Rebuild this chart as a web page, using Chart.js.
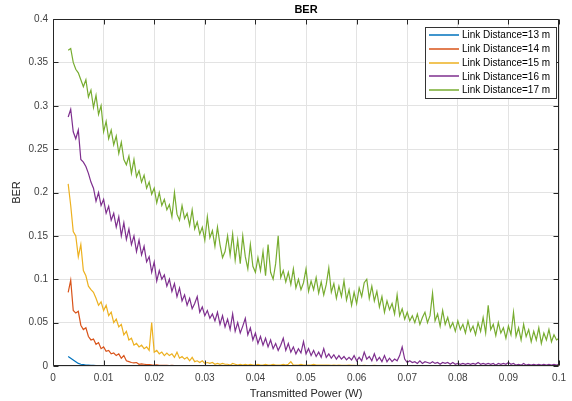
<!DOCTYPE html>
<html>
<head>
<meta charset="utf-8">
<script src="https://cdn.jsdelivr.net/npm/chart.js@4.4.0/dist/chart.umd.min.js"></script>
<style>
html,body{margin:0;padding:0;background:#fff;}
#wrap{width:572px;height:401px;}
</style>
</head>
<body>
<div id="wrap"><canvas id="c" width="572" height="401"></canvas></div>
<script>
// Sampling grid of transmitted power (W): 0.003 .. 0.1 in steps of 0.0005
const powerStart = 0.003, powerStep = 0.0005, powerCount = 195;
const power = [];
for (let i = 0; i < powerCount; i++) power.push(+(powerStart + powerStep * i).toFixed(4));

const seriesLabels = ['Link Distance=13 m','Link Distance=14 m','Link Distance=15 m','Link Distance=16 m','Link Distance=17 m'];
const seriesColors = ['#0072BD','#D95319','#EDB120','#7E2F8E','#77AC30'];

const xTickValues = [0,0.01,0.02,0.03,0.04,0.05,0.06,0.07,0.08,0.09,0.1];
const xTickLabels = ['0','0.01','0.02','0.03','0.04','0.05','0.06','0.07','0.08','0.09','0.1'];
const yTickValues = [0,0.05,0.1,0.15,0.2,0.25,0.3,0.35,0.4];
const yTickLabels = ['0','0.05','0.1','0.15','0.2','0.25','0.3','0.35','0.4'];

const ber13 = [
.011,.009,.007,.005,.003,.002,.0015,.001,.001,.0008,
.0007,.0006,.0005,.0005,.0004,.0004,.0003,.0003,.0003,.0003,
.0002,.0002,.0002,.0002,.0002,.0002,.0002,.0002,.0002,.0002,
.0002,.0002,.0001,.0002,.0001,.0001,.0001,.0001,.0001,.0001,
.0001,.0001,.0001,.0001,.0001,.0001,.0001,.0001,.0001,.0001,
.0001,.0001,.0001,.0001,.0001,.0001,.0001,.0001,.0001,.0001,
.0001,.0001,.0001,.0001,.0001,.0001,.0001,.0001,.0001,.0001,
.0001,.0001,.0001,.0001,.0001,.0001,.0001,.0001,.0001,.0001,
.0001,.0001,.0001,.0001,.0001,.0001,.0001,.0001,.0001,.0001,
.0001,.0001,.0001,.0001,.0001,.0001,.0001,.0001,.0001,.0001,
.0001,.0001,.0001,.0001,.0001,.0001,.0001,.0001,.0001,.0001,
.0001,.0001,.0001,.0001,.0001,.0001,.0001,.0001,.0001,.0001,
.0001,.0001,.0001,.0001,.0001,.0001,.0001,.0001,.0001,.0001,
.0001,.0001,.0001,.0001,.0001,.0001,.0001,.0001,.0001,.0001,
.0001,.0001,.0001,.0001,.0001,.0001,.0001,.0001,.0001,.0001,
.0001,.0001,.0001,.0001,.0001,.0001,.0001,.0001,.0001,.0001,
.0001,.0001,.0001,.0001,.0001,.0001,.0001,.0001,.0001,.0001,
.0001,.0001,.0001,.0001,.0001,.0001,.0001,.0001,.0001,.0001,
.0001,.0001,.0001,.0001,.0001,.0001,.0001,.0001,.0001,.0001,
.0001,.0001,.0001,.0001,.0001
];

const ber14 = [
.085,.099,.064,.061,.063,.047,.042,.044,.034,.030,
.031,.025,.027,.020,.022,.017,.018,.014,.015,.012,
.014,.009,.012,.006,.005,.004,.0035,.004,.002,.0025,
.002,.0015,.0015,.0012,.001,.0012,.0008,.0008,.0007,.0008,
.0006,.0007,.0006,.0006,.0005,.0006,.0005,.0005,.0005,.0004,
.0004,.0005,.0004,.0004,.0004,.0003,.0004,.0003,.0003,.0003,
.0003,.0003,.0002,.0003,.0002,.0002,.0002,.0002,.0002,.0002,
.0002,.0002,.0002,.0002,.0002,.0002,.0002,.0002,.0002,.0002,
.0002,.0002,.0002,.0002,.0002,.0002,.0002,.0002,.0002,.0002,
.0002,.0002,.0002,.0002,.0002,.0002,.0002,.0002,.0002,.0002,
.0001,.0001,.0001,.0001,.0001,.0001,.0001,.0001,.0001,.0001,
.0001,.0001,.0001,.0001,.0001,.0001,.0001,.0001,.0001,.0001,
.0001,.0001,.0001,.0001,.0001,.0001,.0001,.0001,.0001,.0001,
.0001,.0001,.0001,.0001,.0001,.0001,.0001,.0001,.0001,.0001,
.0001,.0001,.0001,.0001,.0001,.0001,.0001,.0001,.0001,.0001,
.0001,.0001,.0001,.0001,.0001,.0001,.0001,.0001,.0001,.0001,
.0001,.0001,.0001,.0001,.0001,.0001,.0001,.0001,.0001,.0001,
.0001,.0001,.0001,.0001,.0001,.0001,.0001,.0001,.0001,.0001,
.0001,.0001,.0001,.0001,.0001,.0001,.0001,.0001,.0001,.0001,
.0001,.0001,.0001,.0001,.0001
];

const ber15 = [
.210,.185,.155,.150,.126,.140,.110,.104,.092,.088,
.085,.078,.070,.074,.064,.070,.058,.062,.050,.054,
.045,.048,.036,.040,.030,.032,.024,.026,.022,.024,
.020,.022,.018,.050,.016,.018,.014,.016,.012,.015,
.012,.014,.010,.016,.009,.011,.008,.010,.006,.010,
.005,.006,.004,.006,.003,.004,.003,.004,.002,.003,
.002,.003,.002,.002,.001,.003,.002,.001,.002,.001,
.002,.001,.002,.001,.001,.002,.001,.001,.002,.001,
.001,.002,.001,.001,.001,.002,.001,.002,.005,.001,
.001,.001,.002,.001,.001,.001,.001,.002,.001,.001,
.001,.001,.001,.001,.0008,.001,.0008,.001,.0008,.0008,
.0008,.001,.0008,.0008,.0006,.0008,.0006,.0008,.0006,.0006,
.0006,.0008,.0006,.0006,.0005,.0006,.0005,.0006,.0005,.0005,
.0005,.0006,.0005,.0005,.0005,.0004,.0005,.0004,.0004,.0005,
.0004,.0004,.0004,.0005,.0004,.0004,.0003,.0004,.0004,.0003,
.0003,.0004,.0003,.0003,.0003,.0004,.0003,.0003,.0003,.0003,
.0003,.0003,.0002,.0003,.0003,.0002,.0003,.0002,.0002,.0003,
.0002,.0002,.0002,.0003,.0002,.0002,.0002,.0002,.0002,.0002,
.0002,.0002,.0002,.0002,.0002,.0002,.0002,.0002,.0002,.0002,
.0002,.0002,.0002,.0002,.0002
];

const ber16 = [
.287,.296,.270,.262,.272,.238,.235,.230,.222,.212,
.205,.190,.200,.185,.192,.176,.184,.168,.176,.160,
.172,.150,.165,.146,.158,.140,.150,.132,.145,.128,
.138,.120,.126,.108,.120,.098,.110,.100,.105,.092,
.100,.086,.095,.080,.090,.075,.082,.070,.078,.066,
.072,.080,.062,.068,.058,.064,.055,.060,.052,.062,
.048,.058,.045,.054,.042,.060,.040,.050,.038,.046,
.055,.036,.044,.030,.038,.026,.034,.024,.032,.022,
.030,.020,.026,.018,.024,.032,.018,.026,.016,.022,
.014,.020,.015,.028,.014,.020,.012,.018,.011,.016,
.010,.020,.010,.014,.009,.013,.008,.012,.008,.011,
.007,.010,.007,.012,.006,.010,.006,.016,.008,.011,
.006,.014,.006,.010,.005,.012,.005,.009,.005,.008,
.006,.012,.022,.008,.004,.006,.004,.005,.003,.006,
.003,.005,.004,.003,.005,.003,.004,.002,.004,.003,
.004,.002,.004,.002,.003,.002,.003,.002,.003,.002,
.003,.002,.004,.002,.003,.002,.003,.002,.003,.001,
.003,.002,.003,.002,.004,.002,.003,.001,.002,.001,
.003,.001,.002,.001,.002,.001,.002,.001,.002,.001,
.002,.001,.002,.001,.002
];

const ber17 = [
.364,.366,.350,.342,.338,.330,.322,.330,.310,.318,
.298,.312,.290,.300,.270,.282,.262,.272,.255,.265,
.245,.258,.238,.232,.242,.222,.238,.218,.225,.212,
.220,.205,.212,.198,.205,.188,.200,.185,.192,.180,
.186,.172,.200,.175,.168,.185,.170,.176,.162,.180,
.158,.166,.152,.160,.145,.172,.148,.156,.138,.160,
.140,.125,.132,.150,.128,.152,.122,.145,.118,.150,
.126,.112,.140,.115,.108,.125,.110,.132,.104,.140,
.108,.100,.118,.150,.102,.110,.097,.108,.094,.112,
.090,.100,.088,.096,.112,.086,.098,.088,.102,.084,
.097,.082,.094,.113,.085,.095,.078,.092,.080,.098,
.076,.088,.070,.085,.072,.090,.080,.096,.100,.078,
.092,.075,.086,.068,.080,.062,.075,.065,.072,.060,
.082,.058,.066,.054,.062,.052,.058,.050,.060,.048,
.056,.062,.050,.058,.084,.052,.060,.046,.064,.048,
.056,.044,.050,.040,.052,.042,.048,.038,.052,.040,
.046,.036,.050,.040,.056,.038,.070,.042,.048,.035,
.050,.038,.044,.032,.046,.036,.062,.034,.044,.030,
.048,.034,.042,.028,.040,.030,.044,.026,.038,.030,
.042,.028,.036,.030,.032
];

const seriesValues = [ber13, ber14, ber15, ber16, ber17];

const FONT = '"Liberation Sans", Arial, Helvetica, sans-serif';
const TXT = '#404040';

const matlabAxes = {
  id: 'matlabAxes',
  afterDraw(chart) {
    const ctx = chart.ctx;
    const a = chart.chartArea;
    const xs = chart.scales.x, ys = chart.scales.y;
    const L = Math.round(a.left) + 0.5, R = Math.round(a.right) - 0.5;
    const T = Math.round(a.top) + 0.5, B = Math.round(a.bottom) - 0.5;
    ctx.save();
    ctx.strokeStyle = '#262626';
    ctx.lineWidth = 1;
    ctx.beginPath();
    ctx.moveTo(L, T); ctx.lineTo(R, T); ctx.lineTo(R, B); ctx.lineTo(L, B); ctx.lineTo(L, T);
    const tl = 5;
    xTickValues.forEach(v => {
      const px = Math.round(xs.getPixelForValue(v)) + 0.5;
      ctx.moveTo(px, B); ctx.lineTo(px, B - tl);
      ctx.moveTo(px, T); ctx.lineTo(px, T + tl);
    });
    yTickValues.forEach(v => {
      const py = Math.round(ys.getPixelForValue(v)) + 0.5;
      ctx.moveTo(L, py); ctx.lineTo(L + tl, py);
      ctx.moveTo(R, py); ctx.lineTo(R - tl, py);
    });
    ctx.stroke();

    ctx.fillStyle = '#000';
    ctx.font = 'bold 11px ' + FONT;
    ctx.textAlign = 'center';
    ctx.textBaseline = 'middle';
    ctx.fillText('BER', (a.left + a.right) / 2, 9.5);

    const bx = 425.5, by = 27.5, bw = 131, bh = 71;
    ctx.fillStyle = '#fff';
    ctx.fillRect(bx, by, bw, bh);
    ctx.strokeStyle = '#333333';
    ctx.lineWidth = 1;
    ctx.strokeRect(bx, by, bw, bh);
    ctx.font = '10px ' + FONT;
    ctx.textAlign = 'left';
    seriesLabels.forEach((lab, i) => {
      const yy = 35 + i * 13.75;
      ctx.strokeStyle = seriesColors[i];
      ctx.lineWidth = 1.5;
      ctx.beginPath();
      ctx.moveTo(429, Math.round(yy));
      ctx.lineTo(459, Math.round(yy));
      ctx.stroke();
      ctx.fillStyle = '#000';
      ctx.fillText(lab, 462, yy + 0.5);
    });
    ctx.restore();
  }
};

const datasets = seriesValues.map((vals, i) => ({
  label: seriesLabels[i],
  data: vals.map((v, j) => ({x: power[j], y: v})),
  borderColor: seriesColors[i],
  backgroundColor: seriesColors[i],
  borderWidth: 1.2,
  pointRadius: 0,
  tension: 0,
  fill: false,
  order: 5 - i
}));

new Chart(document.getElementById('c'), {
  type: 'line',
  data: { datasets },
  options: {
    responsive: false,
    animation: false,
    layout: { padding: { top: 19, right: 7, left: 0, bottom: 0 } },
    plugins: { legend: { display: false }, title: { display: false }, tooltip: { enabled: false } },
    scales: {
      x: {
        type: 'linear',
        min: 0, max: 0.1,
        afterFit(s) { s.height = 35; },
        afterBuildTicks(s) { s.ticks = xTickValues.map(v => ({value: v})); },
        grid: { color: '#e3e3e3', drawTicks: false, lineWidth: 1 },
        border: { display: false },
        ticks: {
          padding: 6, color: TXT, font: { family: FONT, size: 10 }, maxRotation: 0, autoSkip: false,
          callback: (v, idx) => xTickLabels[idx]
        },
        title: { display: true, text: 'Transmitted Power (W)', color: '#262626', font: { family: FONT, size: 11 }, padding: { top: 2, bottom: 0 } }
      },
      y: {
        type: 'linear',
        min: 0, max: 0.4,
        afterFit(s) { s.width = 53; },
        afterBuildTicks(s) { s.ticks = yTickValues.map(v => ({value: v})); },
        grid: { color: '#e3e3e3', drawTicks: false, lineWidth: 1 },
        border: { display: false },
        ticks: {
          padding: 5, color: TXT, font: { family: FONT, size: 10 }, autoSkip: false,
          callback: (v, idx) => yTickLabels[idx]
        },
        title: { display: true, text: 'BER', color: '#262626', font: { family: FONT, size: 11 }, padding: { top: 10, bottom: 0 } }
      }
    }
  },
  plugins: [matlabAxes]
});
</script>
</body>
</html>
